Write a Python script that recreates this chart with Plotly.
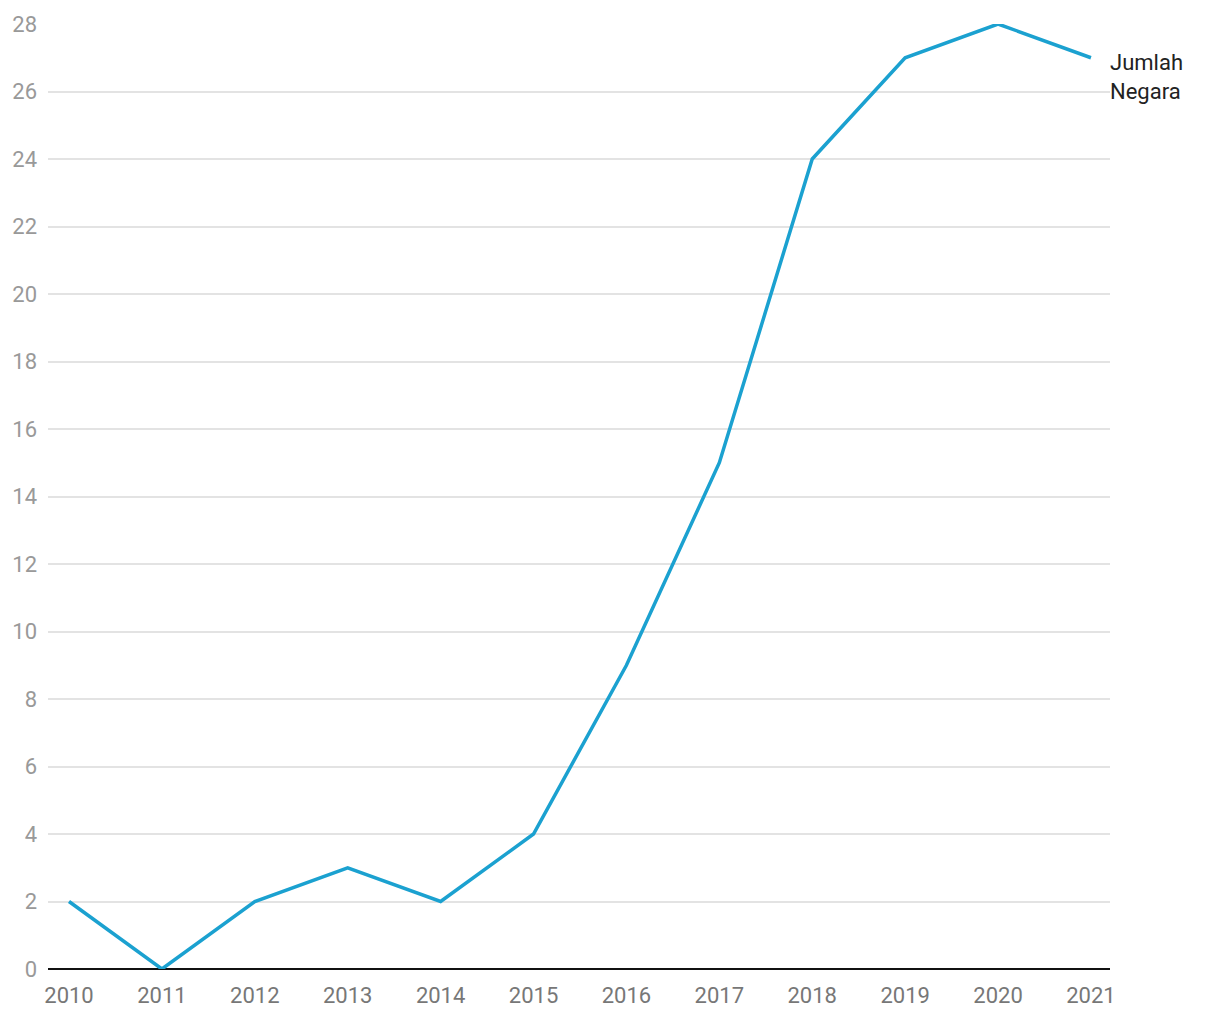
import plotly.graph_objects as go

years = [2010, 2011, 2012, 2013, 2014, 2015, 2016, 2017, 2018, 2019, 2020, 2021]
jumlah_negara = [2, 0, 2, 3, 2, 4, 9, 15, 24, 27, 28, 27]
series_name = "Jumlah<br>Negara"
y_ticks = list(range(0, 29, 2))

fig = go.Figure()
fig.add_trace(go.Scatter(
    x=years, y=jumlah_negara, mode="lines",
    line=dict(color="#1ba1d0", width=3.5),
    name="Jumlah Negara", showlegend=False,
))

fig.add_annotation(
    x=1, xref="paper", y=jumlah_negara[-1], yref="y",
    text=series_name, showarrow=False, xanchor="left", yanchor="top",
    align="left", yshift=10, xshift=-2,
    font=dict(family="Roboto", size=22, color="#222222"),
)

fig.update_layout(
    width=1220, height=1020,
    margin=dict(l=48, r=110, t=24, b=48),
    paper_bgcolor="white", plot_bgcolor="white",
    font=dict(family="Roboto", size=22),
    xaxis=dict(
        range=[2009.774, 2021.205], tickmode="array", tickvals=years,
        ticktext=[str(y) for y in years], showgrid=False, zeroline=False,
        tickfont=dict(color="#777777", size=22), ticks="", showline=False,
        ticklabelstandoff=11,
    ),
    yaxis=dict(
        range=[0, 28], tickmode="array", tickvals=y_ticks,
        showgrid=True, gridcolor="#e3e3e3", gridwidth=2,
        zeroline=True, zerolinecolor="#111111", zerolinewidth=2,
        tickfont=dict(color="#999999", size=22), ticks="",
        ticklabelstandoff=10,
    ),
)

fig.write_html("out.html")
